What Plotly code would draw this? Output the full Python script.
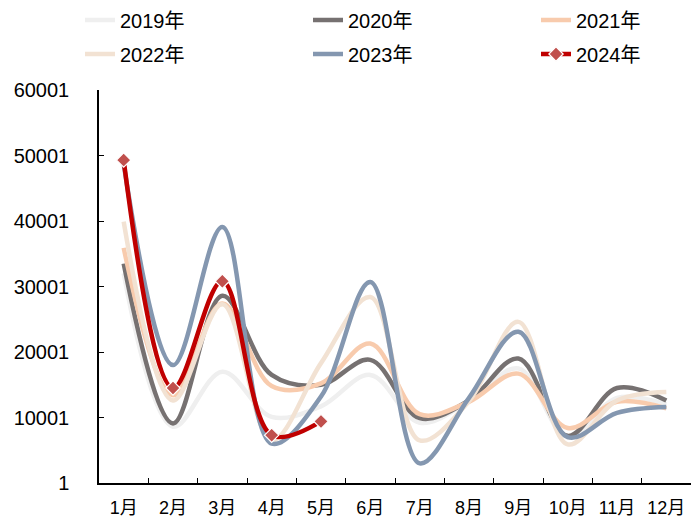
import plotly.graph_objects as go

months = ["1月", "2月", "3月", "4月", "5月", "6月", "7月", "8月", "9月", "10月", "11月", "12月"]
y2019 = [32000, 8600, 17000, 10100, 11700, 16500, 9200, 12500, 17500, 7000, 13000, 12000]
y2020 = [33500, 9100, 28600, 16500, 15000, 18800, 9900, 12600, 19000, 7200, 14500, 12600]
y2021 = [35900, 13400, 27400, 14800, 15200, 21300, 10500, 12400, 16700, 8400, 12400, 11400]
y2022 = [39900, 12600, 27300, 6500, 18300, 28400, 6500, 12500, 24600, 5900, 12600, 13900]
y2023 = [48700, 18000, 39100, 6000, 13200, 30700, 3000, 13000, 23100, 7000, 10700, 11600]
y2024 = [49300, 14500, 30800, 7300, 9400]
yticks = [1, 10001, 20001, 30001, 40001, 50001, 60001]

series = [
    ("2019年", y2019, "#EFEFEF"),
    ("2020年", y2020, "#767171"),
    ("2021年", y2021, "#F8CBAD"),
    ("2022年", y2022, "#F2E2D3"),
    ("2023年", y2023, "#8497B0"),
]
legend_ids = ["legend", "legend2", "legend3", "legend4", "legend5", "legend6"]

fig = go.Figure()
for i, (name, ys, col) in enumerate(series):
    fig.add_trace(go.Scatter(
        x=months[:len(ys)], y=ys, name=name, mode="lines",
        line=dict(color=col, width=4.5, shape="spline", smoothing=1.0),
        legend=legend_ids[i],
    ))
fig.add_trace(go.Scatter(
    x=months[:len(y2024)], y=y2024, name="2024年", mode="lines+markers",
    line=dict(color="#C00000", width=4.5, shape="spline", smoothing=1.0),
    marker=dict(symbol="diamond", size=11, color="#C0504D", line=dict(color="white", width=1.2)),
    legend="legend6",
))

font_family = "Liberation Sans, Arial, Noto Sans CJK SC, sans-serif"
OFF = 8  # page body margin offset
W, H = 700 - OFF, 526 - OFF
text_x = [122, 350, 578]
row_y = [20, 54]
leg_layout = {}
for i, lid in enumerate(legend_ids):
    cx = text_x[i % 3] - 42 - OFF
    cy = row_y[i // 3] - OFF
    leg_layout[lid] = dict(
        orientation="h", xref="container", yref="container",
        x=cx / W, y=1 - cy / H, xanchor="left", yanchor="middle",
        font=dict(size=20, family=font_family), bgcolor="rgba(0,0,0,0)",
        borderwidth=0,
    )

fig.update_layout(
    width=W, height=H,
    margin=dict(l=99 - OFF, r=17 - OFF, t=90 - OFF, b=43, autoexpand=False),
    paper_bgcolor="white", plot_bgcolor="white",
    font=dict(family=font_family, size=18, color="black"),
    showlegend=True,
    **leg_layout,
)
fig.update_xaxes(
    type="category", categoryorder="array", categoryarray=months,
    range=[-0.5, 11.5], showline=True, linecolor="black", linewidth=1.5,
    ticks="inside", tickson="boundaries", ticklen=5, tickcolor="black", tickwidth=1.2,
    showgrid=False, zeroline=False, tickfont=dict(size=18), ticklabelstandoff=8,
)
fig.update_yaxes(
    range=[1, 60001], tickvals=yticks, ticktext=[str(v) for v in yticks],
    showline=True, linecolor="black", linewidth=1.5,
    ticks="inside", ticklen=5, tickcolor="black", tickwidth=1.2,
    showgrid=False, zeroline=False, tickfont=dict(size=20), ticklabelstandoff=24,
)
fig.write_html("out.html")
